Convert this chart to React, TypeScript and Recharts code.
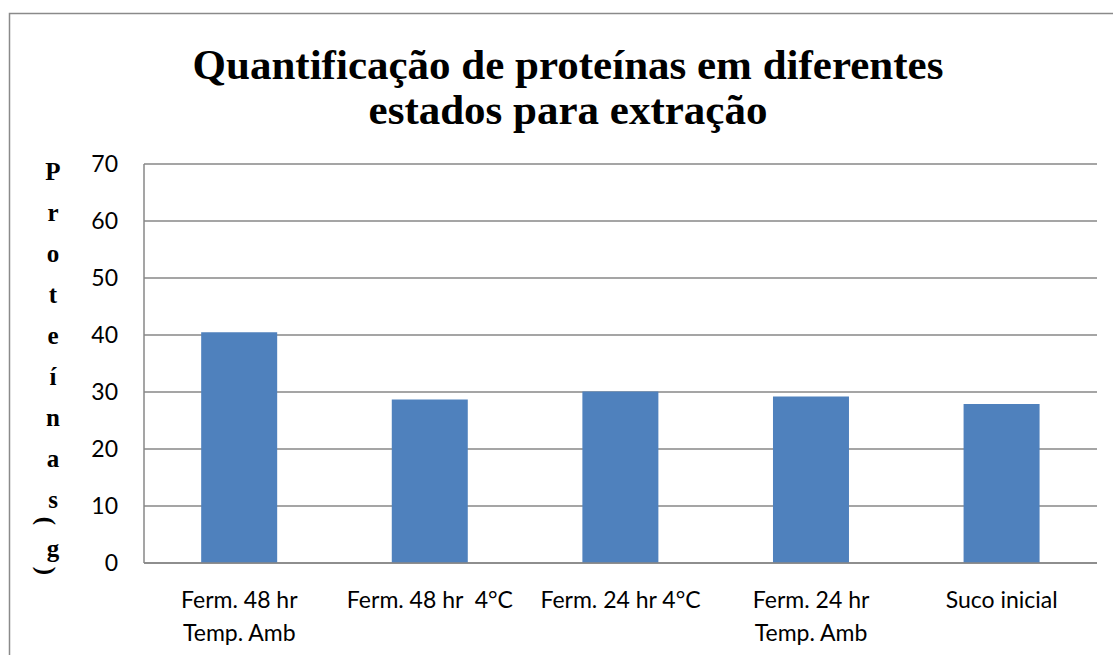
import React from "react";
import { BarChart, Bar, XAxis, YAxis, CartesianGrid } from "recharts";

const categoryLine1 = ["Ferm. 48 hr", "Ferm. 48 hr  4°C", "Ferm. 24 hr 4°C", "Ferm. 24 hr", "Suco inicial"];
const categoryLine2 = ["Temp. Amb", "", "", "Temp. Amb", ""];
const proteinValues = [40.5, 28.7, 30.1, 29.2, 27.9];
const yTicks = [0, 10, 20, 30, 40, 50, 60, 70];
const titleLines = ["Quantificação de proteínas em diferentes", "estados para extração"];
const yLabelLetters = ["P", "r", "o", "t", "e", "í", "n", "a", "s"];

const data = categoryLine1.map((c, i) => ({
  name: categoryLine2[i] ? c + "\n" + categoryLine2[i] : c,
  value: proteinValues[i],
}));

const W = 1113;
const H = 655;
const SANS = "Lato, 'Open Sans', sans-serif";
const SERIF = "'Liberation Serif', 'Times New Roman', serif";
const GRID = "#878787";

const XTick = (props: any) => {
  const { x, y, payload } = props;
  const lines = String(payload.value).split("\n");
  return (
    <g>
      {lines.map((l: string, i: number) => (
        <text
          key={i}
          x={x}
          y={y + 43 + i * 33}
          textAnchor="middle"
          fontFamily={SANS}
          fontSize={23}
          fill="#000"
          style={{ whiteSpace: "pre" }}
        >
          {l}
        </text>
      ))}
    </g>
  );
};

export default function App() {
  return (
    <div style={{ position: "absolute", left: 0, top: 0, width: W, height: H, background: "#fff" }}>
      <BarChart
        width={W}
        height={H}
        data={data}
        margin={{ top: 164, right: 16, bottom: 0, left: 0 }}
        barCategoryGap="30%"
      >
        <CartesianGrid vertical={false} stroke={GRID} strokeWidth={1.5} />
        <XAxis
          dataKey="name"
          tick={<XTick />}
          tickLine={false}
          tickSize={0}
          interval={0}
          axisLine={{ stroke: GRID, strokeWidth: 1.5 }}
          height={92}
        />
        <YAxis
          width={144}
          domain={[0, 70]}
          ticks={yTicks}
          interval={0}
          tickLine={false}
          tickSize={0}
          tickMargin={26}
          axisLine={{ stroke: GRID, strokeWidth: 1.5 }}
          tick={{ fontFamily: SANS, fontSize: 23, fill: "#000" }}
        />
        <Bar dataKey="value" fill="#4F81BD" isAnimationActive={false} />
      </BarChart>
      <svg
        width={W}
        height={H}
        style={{ position: "absolute", left: 0, top: 0, pointerEvents: "none" }}
      >
        <path d={`M9.5,${H} V13.5 H${W}`} fill="none" stroke="#8a8a8a" strokeWidth={1.5} />
        {titleLines.map((t, i) => (
          <text
            key={i}
            x={568}
            y={79 + i * 45}
            textAnchor="middle"
            fontFamily={SERIF}
            fontWeight="bold"
            fontSize={43}
            fill="#000"
          >
            {t}
          </text>
        ))}
        {yLabelLetters.map((ch, i) => (
          <text
            key={i}
            x={53}
            y={180 + i * 41}
            textAnchor="middle"
            fontFamily={SERIF}
            fontWeight="bold"
            fontSize={25}
            fill="#000"
          >
            {ch}
          </text>
        ))}
        <text
          transform="translate(46,521) rotate(90)"
          textAnchor="middle"
          dominantBaseline="central"
          fontFamily={SERIF}
          fontWeight="bold"
          fontSize={25}
          fill="#000"
        >
          (
        </text>
        <text
          x={53}
          y={557}
          textAnchor="middle"
          fontFamily={SERIF}
          fontWeight="bold"
          fontSize={25}
          fill="#000"
        >
          g
        </text>
        <text
          transform="translate(46,571) rotate(90)"
          textAnchor="middle"
          dominantBaseline="central"
          fontFamily={SERIF}
          fontWeight="bold"
          fontSize={25}
          fill="#000"
        >
          )
        </text>
      </svg>
    </div>
  );
}
